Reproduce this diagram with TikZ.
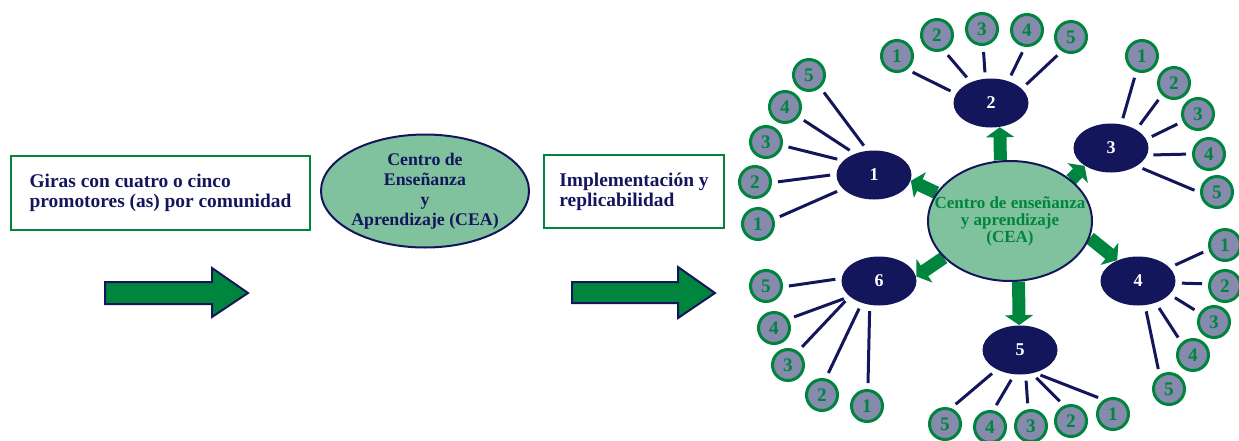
\documentclass[tikz,border=0pt]{standalone}
\usepackage{fontspec}
\setmainfont{Liberation Serif}
\usetikzlibrary{shapes.geometric,arrows.meta,backgrounds}
\definecolor{navy}{RGB}{20,22,92}
\definecolor{leaf}{RGB}{0,133,62}
\definecolor{mint}{RGB}{128,194,158}
\definecolor{slate}{RGB}{134,138,172}
\tikzset{
	flowbox/.style={draw=leaf,line width=1pt,align=left,text=navy,font=\fontsize{9.7}{10}\selectfont\bfseries},
	hub/.style={ellipse,fill=navy,inner sep=0pt,minimum width=37.5pt,minimum height=24.5pt,text=white,font=\fontsize{9}{9}\selectfont\bfseries},
	sat/.style={circle,draw=leaf,fill=slate,line width=1.5pt,inner sep=0pt,minimum size=15.5pt,text=leaf,font=\fontsize{9.6}{9.6}\selectfont\bfseries},
	spoke/.style={navy,line width=1.5pt,shorten <=3pt,shorten >=3pt},
	ringarrow/.style={leaf,line width=6.5pt,-{Triangle[width=14pt,length=5pt]}},
	bigarrow/.style={fill=leaf,draw=navy,line width=1pt,line join=miter}
}
\begin{document}
\begin{tikzpicture}[x=0.5pt,y=-0.5pt]
		\useasboundingbox (0,0) rectangle (1239,440);
		% left part: flow
		\node[flowbox,minimum width=149.5pt,minimum height=37pt] (giras) at (160.5,193) {Giras con cuatro o cinco\\promotores (as) por comunidad};
		\node[ellipse,draw=navy,fill=mint,line width=1pt,inner xsep=-14pt,inner ysep=-14pt,minimum width=104pt,minimum height=56.5pt,align=center,text=navy,font=\fontsize{8.9}{10}\selectfont\bfseries] (cea1) at (425,191) {Centro de\\Enseñanza\\y\\Aprendizaje (CEA)};
		\node[flowbox,minimum width=90pt,minimum height=36.5pt] (impl) at (634,191.5) {Implementación y\\replicabilidad};
		\draw[bigarrow] (105,282) -- (212,282) -- (212,268) -- (248,293) -- (212,317) -- (212,304) -- (105,304) -- cycle;
		\draw[bigarrow] (572,282) -- (678,282) -- (678,267) -- (715,293) -- (678,318) -- (678,303) -- (572,303) -- cycle;
		% right part: centre and its six groups
		\node[ellipse,draw=navy,fill=mint,line width=1pt,inner xsep=-16pt,inner ysep=-14pt,minimum width=82pt,minimum height=60pt,align=center,text=leaf,font=\fontsize{8.5}{8.5}\selectfont\bfseries] (cea) at (1010,221) {Centro de enseñanza\\y aprendizaje\\(CEA)};
		\node[hub] (h1) at (874,175) {1};
		\node[hub] (h2) at (991,103) {2};
		\node[hub] (h3) at (1111,148) {3};
		\node[hub] (h4) at (1138,281) {4};
		\node[hub] (h5) at (1020,350) {5};
		\node[hub] (h6) at (879,281) {6};
		\begin{scope}[on background layer]
			\draw[ringarrow] (cea.159) -- (h1.351);
			\draw[ringarrow] (cea.99) -- (h2.290);
			\draw[ringarrow] (cea.34) -- (h3.214);
			\draw[ringarrow] (cea.348) -- (h4.135);
			\draw[ringarrow] (cea.278) -- (h5.92);
			\draw[ringarrow] (cea.209) -- (h6.7);
		\end{scope}
		% group 1
		\node[sat] (c11) at (758,224) {1};
		\node[sat] (c12) at (755,182) {2};
		\node[sat] (c13) at (766,142) {3};
		\node[sat] (c14) at (785,107) {4};
		\node[sat] (c15) at (809,75) {5};
		\draw[spoke] (h1.204) -- (c11.17);
		\draw[spoke] (h1.179) -- (c12.358);
		\draw[spoke] (h1.155) -- (c13.348);
		\draw[spoke] (h1.132) -- (c14.324);
		\draw[spoke] (h1.105) -- (c15.312);
		% group 2
		\node[sat] (c21) at (897,56) {1};
		\node[sat] (c22) at (937,35) {2};
		\node[sat] (c23) at (982,29) {3};
		\node[sat] (c24) at (1027,30) {4};
		\node[sat] (c25) at (1071,37) {5};
		\draw[spoke] (h2.165) -- (c21.307);
		\draw[spoke] (h2.134) -- (c22.294);
		\draw[spoke] (h2.103) -- (c23.274);
		\draw[spoke] (h2.52) -- (c24.263);
		\draw[spoke] (h2.25) -- (c25.237);
		% group 3
		\node[sat] (c31) at (1142,56) {1};
		\node[sat] (c32) at (1174,83) {2};
		\node[sat] (c33) at (1198,114) {3};
		\node[sat] (c34) at (1209,154) {4};
		\node[sat] (c35) at (1217,192) {5};
		\draw[spoke] (h3.67) -- (c31.250);
		\draw[spoke] (h3.36) -- (c32.225);
		\draw[spoke] (h3.14) -- (c33.206);
		\draw[spoke] (h3.349) -- (c34.180);
		\draw[spoke] (h3.325) -- (c35.182);
		% group 4
		\node[sat] (c41) at (1225,245) {1};
		\node[sat] (c42) at (1225,286) {2};
		\node[sat] (c43) at (1214,322) {3};
		\node[sat] (c44) at (1193,355) {4};
		\node[sat] (c45) at (1169,389) {5};
		\draw[spoke] (h4.23) -- (c41.196);
		\draw[spoke] (h4.357) -- (c42.173);
		\draw[spoke] (h4.337) -- (c43.148);
		\draw[spoke] (h4.309) -- (c44.133);
		\draw[spoke] (h4.286) -- (c45.124);
		% group 5
		\node[sat] (c51) at (1113,414) {1};
		\node[sat] (c52) at (1071,421) {2};
		\node[sat] (c53) at (1031,426) {3};
		\node[sat] (c54) at (990,427) {4};
		\node[sat] (c55) at (945,424) {5};
		\draw[spoke] (h5.303) -- (c51.123);
		\draw[spoke] (h5.297) -- (c52.114);
		\draw[spoke] (h5.283) -- (c53.100);
		\draw[spoke] (h5.257) -- (c54.79);
		\draw[spoke] (h5.220) -- (c55.69);
		% group 6
		\node[sat] (c61) at (867,406) {1};
		\node[sat] (c62) at (822,395) {2};
		\node[sat] (c63) at (788,365) {3};
		\node[sat] (c64) at (774,328) {4};
		\node[sat] (c65) at (766,286) {5};
		\draw[spoke] (h6.249) -- (c61.87);
		\draw[spoke] (h6.232) -- (c62.77);
		\draw[spoke] (h6.208) -- (c63.54);
		\draw[spoke] (h6.208) -- (c64.32);
		\draw[spoke] (h6.176) -- (c65.357);
\end{tikzpicture}
\end{document}
